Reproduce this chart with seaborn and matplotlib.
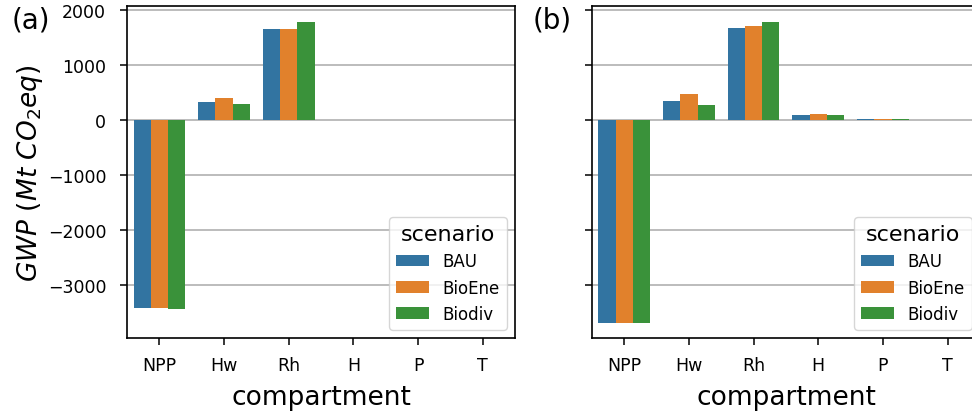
import numpy as np
import pandas as pd
import matplotlib
matplotlib.use("Agg")
import matplotlib.pyplot as plt
import seaborn as sns

compartments = ["NPP", "Hw", "Rh", "H", "P", "T"]
scenarios = ["BAU", "BioEne", "Biodiv"]

# GWP per compartment (Mt CO2eq), one list per scenario
gwp_a = {
    "BAU":    [-3424, 321, 1655, 0, 0, 0],
    "BioEne": [-3424, 406, 1655, 0, 0, 0],
    "Biodiv": [-3436, 285, 1776, 0, 0, 0],
}
gwp_b = {
    "BAU":    [-3691, 351, 1673, 97, 12, 1],
    "BioEne": [-3695, 479, 1715, 103, 14, 1],
    "Biodiv": [-3695, 273, 1776, 85, 12, 1],
}
panel_labels = ["(a)", "(b)"]


def to_frame(values):
    rows = []
    for sc in scenarios:
        for comp, v in zip(compartments, values[sc]):
            rows.append({"compartment": comp, "scenario": sc, "GWP": v})
    return pd.DataFrame(rows)


fig = plt.figure(figsize=(9.72, 4.14), dpi=100)
ax_a = fig.add_axes([0.1307, 0.1812, 0.3992, 0.8007])
ax_b = fig.add_axes([0.609, 0.1812, 0.3992, 0.8007], sharey=ax_a)

for ax, values, lab in zip([ax_a, ax_b], [gwp_a, gwp_b], panel_labels):
    df = to_frame(values)
    sns.barplot(data=df, x="compartment", y="GWP", hue="scenario",
                order=compartments, hue_order=scenarios, ax=ax)
    ax.set_axisbelow(True)
    ax.grid(axis="y", color="#b0b0b0", linewidth=1.2)
    ax.tick_params(axis="both", labelsize=12.5, length=5, width=1.1)
    ax.tick_params(axis="x", pad=8)
    ax.tick_params(axis="y", pad=10)
    ax.set_xlabel("compartment", fontsize=19, labelpad=7)
    ax.legend(title="scenario", loc="lower right", fontsize=12,
              title_fontsize=16)
    for sp in ax.spines.values():
        sp.set_color("black")
        sp.set_linewidth(1.2)

ax_a.set_ylabel(r"$GWP\ (Mt\ CO_2eq)$", fontsize=19, labelpad=2)
ax_b.set_ylabel("")
ax_b.tick_params(axis="y", labelleft=False)
ax_a.set_yticks([-3000, -2000, -1000, 0, 1000, 2000])
ax_a.set_ylim(-3964, 2064)

fig.text(12 / 972, 1 - 20 / 414, panel_labels[0], fontsize=20, va="center", ha="left")
fig.text(533 / 972, 1 - 20 / 414, panel_labels[1], fontsize=20, va="center", ha="left")

fig.savefig("out.png", dpi=100)
